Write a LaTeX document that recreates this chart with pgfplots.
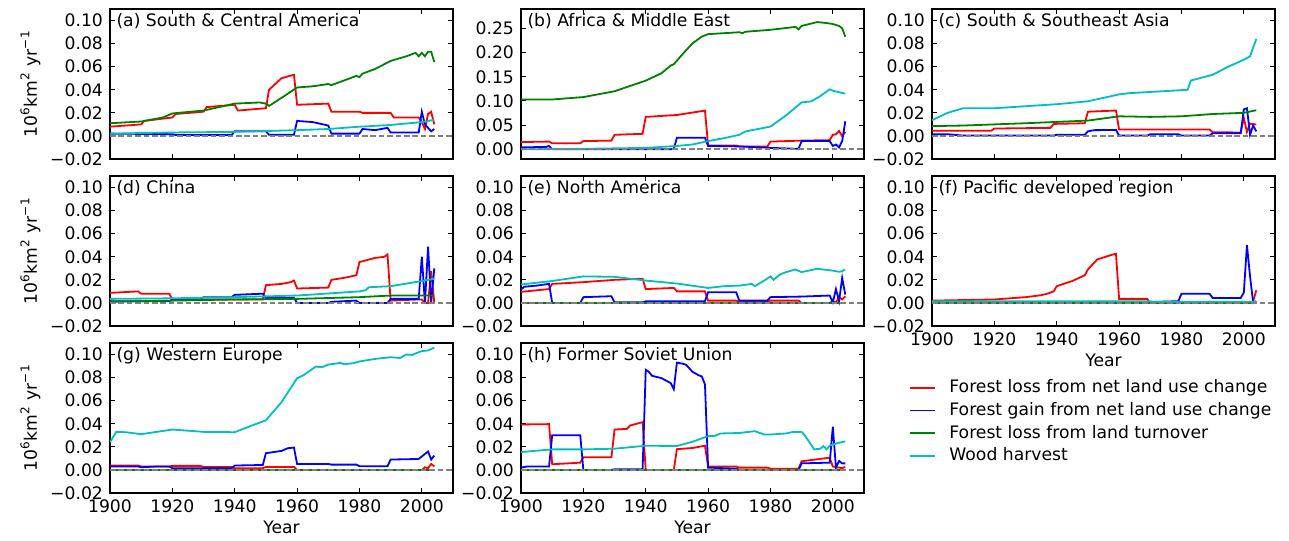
\documentclass[border=0pt]{standalone}
\usepackage{fontspec}
\setmainfont{DejaVu Sans}
\usepackage{pgfplots}
\pgfplotsset{compat=1.18}
\usepgfplotslibrary{groupplots}

\definecolor{cr}{rgb}{1,0,0}
\definecolor{cb}{rgb}{0,0,1}
\definecolor{cg}{rgb}{0,0.5,0}
\definecolor{cc}{rgb}{0,0.75,0.75}

\newcommand{\fs}{\fontsize{8.6}{10}\selectfont}
\newcommand{\zero}{\addplot[forget plot, color=gray, line width=0.9pt, dash pattern=on 2.8pt off 1.4pt] coordinates {(1900,0) (2010,0)};}
\newcommand{\ptitle}[1]{\node[anchor=north west, inner sep=1pt, font=\fs] at (rel axis cs:0.012,0.985) {#1};}

\tikzset{
  sred/.style={color=cr, line width=0.9pt},
  sblue/.style={color=cb, line width=0.9pt},
  sgreen/.style={color=cg, line width=0.9pt},
  scyan/.style={color=cc, line width=0.9pt},
}
\pgfplotsset{
  ylab/.style={ylabel={10\textsuperscript{6}km\textsuperscript{2} yr\textsuperscript{−1}}},
  xbot/.style={xticklabels={1900,1920,1940,1960,1980,2000}, xlabel={Year}},
}

\begin{document}
\begin{tikzpicture}
\begin{groupplot}[
  group style={group size=3 by 3, horizontal sep=34pt, vertical sep=8.5pt, group name=G},
  scale only axis, width=171.5pt, height=75pt,
  xmin=1900, xmax=2010, ymin=-0.02, ymax=0.11,
  xtick={1900,1920,1940,1960,1980,2000}, xticklabels={},
  ytick={-0.02,0,0.02,0.04,0.06,0.08,0.10},
  yticklabels={−0.02,0.00,0.02,0.04,0.06,0.08,0.10},
  tick label style={font=\fs}, label style={font=\fs},
  major tick length=2.5pt, axis line style={line width=0.6pt}, every tick/.style={black, line width=0.5pt},
  ylabel style={yshift=-2pt}, xlabel style={yshift=3pt},
]
% (a)
\nextgroupplot[ylab]
\addplot[sred] coordinates {(1900,0.008)(1905,0.009)(1910,0.010)(1911,0.013)(1920,0.016)(1921,0.019)(1930,0.021)(1931,0.025)(1940,0.027)(1941,0.022)(1950,0.024)(1951,0.040)(1955,0.050)(1959,0.053)(1960,0.027)(1970,0.028)(1971,0.021)(1980,0.021)(1981,0.020)(1990,0.020)(1991,0.016)(1999,0.016)(2000,0.012)(2001,0.006)(2002,0.019)(2003,0.021)(2004,0.010)};
\addplot[sblue] coordinates {(1900,0.002)(1920,0.0015)(1921,0.0008)(1939,0.0008)(1940,0.004)(1950,0.004)(1951,0.001)(1959,0.001)(1960,0.013)(1965,0.012)(1970,0.009)(1971,0.002)(1980,0.002)(1981,0.006)(1985,0.005)(1989,0.007)(1990,0.003)(1999,0.003)(2000,0.021)(2001,0.010)(2002,0.007)(2003,0.004)(2004,0.006)};
\addplot[sgreen] coordinates {(1900,0.011)(1910,0.0125)(1917,0.016)(1920,0.0195)(1930,0.022)(1940,0.028)(1948,0.029)(1950,0.028)(1951,0.026)(1955,0.033)(1960,0.042)(1965,0.043)(1970,0.045)(1971,0.044)(1975,0.048)(1979,0.052)(1980,0.051)(1981,0.054)(1985,0.058)(1990,0.065)(1995,0.069)(1998,0.072)(1999,0.069)(2000,0.072)(2001,0.069)(2002,0.073)(2003,0.073)(2004,0.064)};
\addplot[scyan] coordinates {(1900,0.002)(1920,0.003)(1940,0.0035)(1960,0.005)(1970,0.006)(1980,0.008)(1990,0.0095)(2000,0.012)(2004,0.014)};
\zero
\ptitle{(a) South \& Central America}
% (b)
\nextgroupplot[ymax=0.29, ytick={0,0.05,0.10,0.15,0.20,0.25}, yticklabels={0.00,0.05,0.10,0.15,0.20,0.25}]
\addplot[sred] coordinates {(1900,0.015)(1909,0.016)(1910,0.0125)(1919,0.0125)(1920,0.017)(1929,0.018)(1930,0.030)(1939,0.032)(1940,0.067)(1950,0.071)(1955,0.076)(1959,0.080)(1960,0.008)(1969,0.008)(1970,0.006)(1979,0.006)(1980,0.016)(1990,0.018)(1999,0.019)(2000,0.030)(2001,0.031)(2002,0.038)(2003,0.027)(2004,0.036)};
\addplot[sblue] coordinates {(1900,0.004)(1908,0.005)(1909,0.007)(1910,0.0)(1948,0.0)(1949,0.001)(1950,0.024)(1959,0.024)(1960,0.007)(1970,0.006)(1980,0.003)(1989,0.001)(1990,0.017)(1999,0.017)(2000,0.007)(2001,0.010)(2002,0.004)(2003,0.017)(2004,0.058)};
\addplot[sgreen] coordinates {(1900,0.103)(1910,0.103)(1920,0.108)(1930,0.120)(1940,0.142)(1945,0.157)(1948,0.173)(1949,0.176)(1952,0.198)(1955,0.219)(1958,0.233)(1960,0.238)(1970,0.242)(1971,0.240)(1972,0.243)(1980,0.247)(1988,0.253)(1989,0.248)(1990,0.255)(1995,0.263)(1998,0.261)(2000,0.259)(2002,0.255)(2003,0.250)(2004,0.233)};
\addplot[scyan] coordinates {(1900,0.0)(1920,0.001)(1940,0.003)(1950,0.007)(1955,0.010)(1960,0.017)(1965,0.023)(1970,0.030)(1972,0.037)(1980,0.047)(1985,0.070)(1990,0.097)(1993,0.099)(1996,0.110)(1999,0.124)(2000,0.121)(2002,0.118)(2004,0.115)};
\zero
\ptitle{(b) Africa \& Middle East}
% (c)
\nextgroupplot
\addplot[sred] coordinates {(1900,0.0045)(1919,0.0045)(1920,0.0064)(1938,0.007)(1939,0.0104)(1949,0.011)(1950,0.021)(1959,0.022)(1960,0.0055)(1989,0.0055)(1990,0.0032)(1999,0.003)(2000,0.0156)(2001,0.0035)(2002,0.0107)(2004,0.0098)};
\addplot[sblue] coordinates {(1900,0.0015)(1905,0.0015)(1910,0.0003)(1939,0.0003)(1940,0.001)(1949,0.001)(1950,0.004)(1952,0.005)(1959,0.0052)(1960,0.0003)(1969,0.0003)(1970,0.0015)(1979,0.0015)(1980,0.0003)(1989,0.0003)(1990,0.0023)(1999,0.0023)(2000,0.023)(2001,0.024)(2002,0.001)(2003,0.009)(2004,0.004)};
\addplot[sgreen] coordinates {(1900,0.0085)(1910,0.009)(1930,0.011)(1950,0.0133)(1960,0.017)(1970,0.0165)(1980,0.017)(1990,0.019)(2000,0.020)(2004,0.0223)};
\addplot[scyan] coordinates {(1900,0.0136)(1905,0.020)(1910,0.024)(1920,0.024)(1940,0.0275)(1950,0.030)(1960,0.036)(1963,0.037)(1982,0.040)(1983,0.048)(1990,0.053)(1995,0.060)(2000,0.066)(2002,0.069)(2004,0.084)};
\zero
\ptitle{(c) South \& Southeast Asia}
% (d)
\nextgroupplot[ylab]
\addplot[sred] coordinates {(1900,0.0087)(1909,0.010)(1910,0.008)(1919,0.008)(1920,0.003)(1949,0.003)(1950,0.0154)(1955,0.0165)(1958,0.018)(1959,0.0194)(1960,0.0125)(1970,0.0133)(1971,0.020)(1975,0.0217)(1979,0.024)(1980,0.0354)(1985,0.039)(1988,0.040)(1989,0.042)(1990,0.002)(1999,0.003)(2000,0.003)(2001,0.0)(2002,0.0)(2003,0.0275)(2004,0.0)};
\addplot[sblue] coordinates {(1900,0.0015)(1919,0.0015)(1920,0.003)(1929,0.003)(1930,0.005)(1939,0.005)(1940,0.007)(1949,0.008)(1950,0.0043)(1959,0.0043)(1960,0.0)(1970,0.0)(1971,0.001)(1979,0.002)(1980,0.0)(1989,0.0)(1990,0.0035)(1999,0.0035)(2000,0.040)(2001,0.0)(2002,0.0487)(2003,0.0)(2004,0.030)};
\addplot[sgreen] coordinates {(1900,0.001)(1920,0.002)(1940,0.003)(1960,0.0035)(1980,0.005)(1990,0.0064)(2004,0.0064)};
\addplot[scyan] coordinates {(1900,0.0035)(1920,0.004)(1940,0.005)(1960,0.0064)(1980,0.010)(1982,0.011)(1983,0.0136)(1990,0.0145)(2000,0.019)(2004,0.021)};
\zero
\ptitle{(d) China}
% (e)
\nextgroupplot
\addplot[sred] coordinates {(1900,0.0096)(1909,0.012)(1910,0.0165)(1920,0.018)(1930,0.020)(1939,0.021)(1940,0.012)(1949,0.013)(1950,0.010)(1959,0.010)(1960,0.002)(1969,0.002)(1970,0.001)(1979,0.001)(1980,0.002)(1989,0.002)(1990,0.0)(1999,0.0)(2000,0.0015)(2001,0.0005)(2002,0.005)(2003,0.003)(2004,0.0058)};
\addplot[sblue] coordinates {(1900,0.0116)(1901,0.014)(1905,0.015)(1909,0.0165)(1910,0.0)(1919,0.0)(1920,0.005)(1929,0.0058)(1930,0.0005)(1939,0.0005)(1940,0.0015)(1959,0.0015)(1960,0.0093)(1969,0.0093)(1970,0.002)(1979,0.002)(1980,0.005)(1990,0.0055)(1999,0.0064)(2000,0.0005)(2001,0.012)(2002,0.0015)(2003,0.0217)(2004,0.0072)};
\addplot[sgreen] coordinates {(1900,0)(2004,0)};
\addplot[scyan] coordinates {(1900,0.016)(1910,0.019)(1920,0.023)(1930,0.0226)(1940,0.0194)(1950,0.0168)(1960,0.013)(1965,0.0145)(1970,0.015)(1974,0.0165)(1975,0.0145)(1978,0.0194)(1980,0.023)(1981,0.020)(1983,0.0246)(1985,0.0267)(1988,0.029)(1990,0.0267)(1995,0.0296)(2000,0.028)(2002,0.027)(2003,0.0275)(2004,0.029)};
\zero
\ptitle{(e) North America}
% (f)
\nextgroupplot[xbot]
\addplot[sred] coordinates {(1900,0.002)(1920,0.003)(1930,0.005)(1935,0.0067)(1937,0.008)(1939,0.010)(1940,0.0145)(1945,0.019)(1949,0.024)(1950,0.029)(1951,0.032)(1953,0.0377)(1958,0.042)(1959,0.0426)(1960,0.0035)(1969,0.0035)(1970,0.0)(2002,0.0)(2003,0.0015)(2004,0.011)};
\addplot[sblue] coordinates {(1900,0.0)(1949,0.0)(1950,0.001)(1959,0.001)(1960,0.0)(1979,0.0015)(1980,0.008)(1989,0.008)(1990,0.0043)(1999,0.0043)(2000,0.009)(2001,0.050)(2002,0.023)(2003,0.0)(2004,0.0015)};
\addplot[sgreen] coordinates {(1900,0)(2004,0)};
\addplot[scyan] coordinates {(1900,0.0015)(1970,0.0015)(1971,0.001)(2004,0.001)};
\zero
\ptitle{(f) Pacific developed region}
% (g)
\nextgroupplot[ylab, xbot]
\addplot[sred] coordinates {(1900,0.0038)(1909,0.0038)(1910,0.003)(1919,0.003)(1920,0.0035)(1929,0.0035)(1930,0.0026)(1939,0.0026)(1940,0.0015)(1949,0.0015)(1950,0.0026)(1959,0.0026)(1960,0.0)(2000,0.0)(2001,0.0023)(2002,0.0015)(2003,0.0052)(2004,0.003)};
\addplot[sblue] coordinates {(1900,0.003)(1909,0.003)(1910,0.0023)(1915,0.003)(1919,0.003)(1920,0.0015)(1939,0.0015)(1940,0.0038)(1949,0.0043)(1950,0.0145)(1955,0.0165)(1957,0.0188)(1959,0.0194)(1960,0.0052)(1970,0.0052)(1971,0.0046)(1979,0.0046)(1980,0.0032)(1989,0.0032)(1990,0.009)(1999,0.0095)(2002,0.016)(2003,0.009)(2004,0.0124)};
\addplot[sgreen] coordinates {(1900,0)(2004,0)};
\addplot[scyan] coordinates {(1900,0.024)(1902,0.033)(1905,0.0327)(1910,0.031)(1920,0.035)(1930,0.033)(1940,0.0327)(1945,0.038)(1950,0.043)(1955,0.0587)(1960,0.0795)(1962,0.082)(1966,0.0896)(1968,0.089)(1970,0.0913)(1974,0.0928)(1975,0.0916)(1978,0.0925)(1980,0.094)(1985,0.0962)(1990,0.0977)(1993,0.097)(1995,0.100)(1997,0.0997)(1998,0.101)(2000,0.103)(2002,0.1035)(2004,0.106)};
\zero
\ptitle{(g) Western Europe}
% (h)
\nextgroupplot[xbot,
  legend style={at={(1.129,0.81)}, anchor=north west, draw=none, fill=none, font=\fs, row sep=-0.75pt, inner xsep=0pt},
  legend cell align=left,
  legend image code/.code={\draw[#1] (0pt,0pt) -- (12.5pt,0pt); \path (17.5pt,0pt);}]
\addplot[sred] coordinates {(1900,0.0394)(1909,0.0397)(1910,0.0049)(1919,0.0063)(1920,0.011)(1929,0.011)(1930,0.035)(1934,0.0356)(1935,0.0385)(1939,0.0414)(1940,0.0)(1949,0.0)(1950,0.018)(1955,0.019)(1959,0.021)(1960,0.0029)(1969,0.0029)(1970,0.002)(1979,0.002)(1980,0.0011)(1989,0.0011)(1990,0.0075)(1999,0.0106)(2000,0.0029)(2002,0.002)(2003,0.0015)(2004,0.0026)};
\addplot[sblue] coordinates {(1900,0.002)(1902,0.003)(1909,0.003)(1910,0.030)(1919,0.030)(1920,0.0)(1929,0.0)(1930,0.0006)(1939,0.0006)(1940,0.0868)(1941,0.085)(1942,0.0816)(1945,0.0796)(1948,0.0753)(1949,0.070)(1950,0.093)(1952,0.092)(1953,0.091)(1955,0.085)(1957,0.082)(1958,0.081)(1959,0.074)(1960,0.002)(1969,0.0011)(1970,0.0)(1989,0.0)(1990,0.0057)(1999,0.0063)(2000,0.0374)(2001,0.002)(2002,0.0078)(2003,0.0057)(2004,0.0057)};
\addplot[sgreen] coordinates {(1900,0)(2004,0)};
\addplot[scyan] coordinates {(1900,0.0155)(1910,0.0178)(1920,0.0178)(1930,0.0184)(1940,0.021)(1950,0.0207)(1955,0.0244)(1960,0.0293)(1962,0.0293)(1964,0.0316)(1970,0.032)(1975,0.0336)(1978,0.0307)(1980,0.0307)(1985,0.0316)(1987,0.0328)(1990,0.0328)(1991,0.030)(1993,0.022)(1994,0.0178)(1996,0.0184)(1997,0.0207)(1998,0.0178)(1999,0.021)(2000,0.022)(2002,0.0236)(2004,0.0247)};
\zero
\legend{Forest loss from net land use change, Forest gain from net land use change, Forest loss from land turnover, Wood harvest}
\ptitle{(h) Former Soviet Union}
\end{groupplot}
\path (G c1r1.north west) ++(-55pt,4.5pt) coordinate (TL);
\path (G c3r1.east |- G c1r3.south) ++(7pt,-21.5pt) coordinate (BR);
\path (TL) rectangle (BR);
\end{tikzpicture}
\end{document}
